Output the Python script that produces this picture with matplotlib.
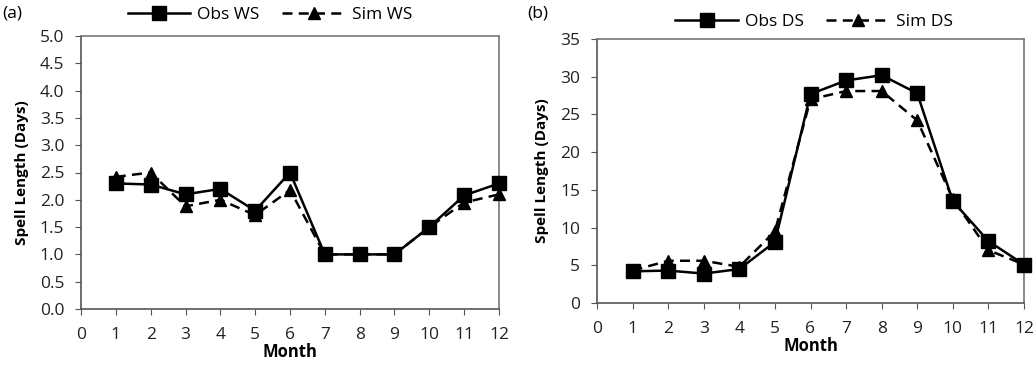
import matplotlib.pyplot as plt

plt.rcParams['font.family'] = ['Open Sans', 'DejaVu Sans']

months = [1, 2, 3, 4, 5, 6, 7, 8, 9, 10, 11, 12]
obs_ws = [2.30, 2.28, 2.10, 2.20, 1.80, 2.50, 1.00, 1.00, 1.00, 1.50, 2.08, 2.30]
sim_ws = [2.42, 2.50, 1.88, 2.00, 1.72, 2.18, 1.00, 1.00, 1.00, 1.50, 1.95, 2.10]
obs_ds = [4.2, 4.3, 3.9, 4.5, 8.1, 27.7, 29.5, 30.2, 27.8, 13.5, 8.2, 5.1]
sim_ds = [4.3, 5.6, 5.6, 4.8, 9.5, 27.0, 28.1, 28.1, 24.2, 13.8, 7.0, 5.1]

fig = plt.figure(figsize=(10.34, 3.65), dpi=100)
ax1 = fig.add_axes([81 / 1034, 56 / 365, 418 / 1034, 273 / 365])
ax2 = fig.add_axes([597 / 1034, 62 / 365, 427 / 1034, 264 / 365])


def style(ax, obs, sim, obs_lab, sim_lab, ymax, ystep, fmt, leg_xy):
    ax.plot(months, obs, color='black', lw=1.8, marker='s', ms=9.5,
            label=obs_lab, clip_on=False, zorder=4)
    ax.plot(months, sim, color='black', lw=1.8, ls=(0, (4, 2.5)), marker='^',
            ms=9, label=sim_lab, clip_on=False, zorder=3)
    ax.set_xlim(0, 12)
    ax.set_ylim(0, ymax)
    ax.set_xticks(range(0, 13))
    yt = [i * ystep for i in range(int(round(ymax / ystep)) + 1)]
    ax.set_yticks(yt)
    ax.set_yticklabels([fmt.format(v) for v in yt])
    ax.tick_params(labelsize=12.5, direction='out', length=4, color='#555555',
                   labelcolor='#222222')
    ax.tick_params(axis='x', pad=9)
    ax.tick_params(axis='y', pad=8)
    for s in ['top', 'right']:
        ax.spines[s].set_color('#777777')
        ax.spines[s].set_linewidth(1.2)
    for s in ['left', 'bottom']:
        ax.spines[s].set_color('#555555')
        ax.spines[s].set_linewidth(1.2)
    ax.set_xlabel('Month', fontsize=12, fontweight='bold', labelpad=0)
    ax.set_ylabel('Spell Length (Days)', fontsize=11, fontweight='bold',
                  labelpad=8)
    ax.legend(loc='center', bbox_to_anchor=leg_xy,
              bbox_transform=fig.transFigure, ncol=2,
              frameon=False, fontsize=12.5, handlelength=3.6, columnspacing=1.3,
              handletextpad=0.4, borderaxespad=0, borderpad=0)


style(ax1, obs_ws, sim_ws, 'Obs WS', 'Sim WS', 5.0, 0.5, '{:.1f}',
      (270 / 1034, 1 - 15 / 365))
style(ax2, obs_ds, sim_ds, 'Obs DS', 'Sim DS', 35, 5, '{:.0f}',
      (814 / 1034, 1 - 22 / 365))

fig.text(2 / 1034, 1 - 14 / 365, '(a)', fontsize=12.5, va='center')
fig.text(527 / 1034, 1 - 14 / 365, '(b)', fontsize=12.5, va='center')

plt.savefig('out.png', dpi=100)
